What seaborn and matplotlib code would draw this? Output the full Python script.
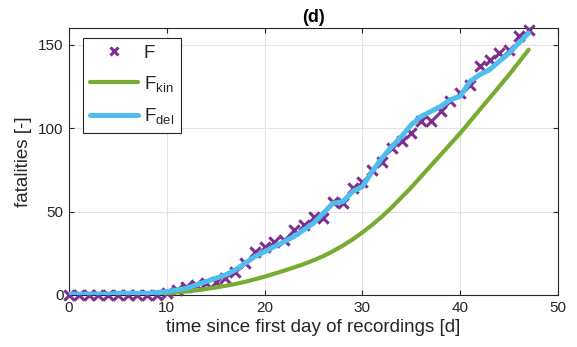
import numpy as np
import pandas as pd
import seaborn as sns
import matplotlib
matplotlib.use("Agg")
import matplotlib.pyplot as plt
from matplotlib.lines import Line2D

# ---- data ----
days = list(range(48))
F = [0, 0, 0, 0, 0, 0, 0, 0, 0, 0,
     1, 3, 5, 6, 7, 8, 10, 14, 19, 26,
     29, 32, 33, 39, 42, 47, 46, 56, 55, 64,
     68, 75, 80, 88, 92, 97, 104, 104, 110, 116,
     121, 126, 137, 141, 145, 147, 155, 159]
F_kin = [0, 0, 0, 0, 0, 0, 0, 0, 0.2, 0.5,
         1, 1.5, 2.1, 2.8, 3.6, 4.5, 5.5, 6.6, 7.9, 9.4,
         11, 12.8, 14.6, 16.5, 18.5, 20.8, 23.3, 26.3, 29.6, 33.3,
         37.5, 42, 47, 52.5, 58.5, 64.5, 71, 77.5, 84, 90.5,
         97, 104, 111, 118, 125, 132, 139.5, 147]
F_del = [0.5, 0.5, 0.5, 0.5, 0.5, 1, 1, 1, 1, 1.5,
         2, 3, 4, 6, 8, 10, 12, 15, 19, 23,
         26, 29, 32, 35, 39, 43, 49, 55, 56, 62,
         65, 74, 82, 89, 95, 102, 107, 110, 113, 117,
         119, 128, 132, 135, 140, 145, 151, 157]
x_ticks = [0, 10, 20, 30, 40, 50]
y_ticks = [0, 50, 100, 150]

df = pd.DataFrame({"day": days, "F": F, "F_kin": F_kin, "F_del": F_del})

c_F = "#7E2F8E"
c_kin = "#77AC30"
c_del = "#4DBEEE"
dark = "#262626"

sns.set_theme(style="white")
plt.rcParams["font.family"] = ["Liberation Sans", "DejaVu Sans"]
plt.rcParams["mathtext.fontset"] = "custom"
plt.rcParams["mathtext.rm"] = "Liberation Sans"
plt.rcParams["mathtext.it"] = "Liberation Sans"

fig = plt.figure(figsize=(5.77, 3.47), dpi=100)
ax = fig.add_axes([69 / 577, 1 - 295 / 347, (558 - 69) / 577, (295 - 28) / 347])

sns.scatterplot(data=df, x="day", y="F", marker="x", s=55, linewidth=2.2,
                color=c_F, ax=ax, clip_on=False, zorder=3, legend=False)
sns.lineplot(data=df, x="day", y="F_kin", color=c_kin, linewidth=3.0, ax=ax,
             zorder=4, legend=False)
sns.lineplot(data=df, x="day", y="F_del", color=c_del, linewidth=3.6, ax=ax,
             zorder=5, legend=False)

ax.set_xlim(0, 50)
ax.set_ylim(0, 160)
ax.set_xticks(x_ticks)
ax.set_yticks(y_ticks)
ax.grid(True, color="#e3e3e3", linewidth=0.8)
ax.set_axisbelow(True)
for s in ax.spines.values():
    s.set_visible(True)
    s.set_color(dark)
    s.set_linewidth(0.8)
ax.tick_params(direction="in", length=3.6, width=0.8, colors=dark,
               labelsize=11, top=True, right=True, bottom=True, left=True,
               labelcolor=dark, pad=4)

ax.set_xlabel("time since first day of recordings [d]", fontsize=13.5,
              color=dark, labelpad=3)
ax.set_ylabel("fatalities [-]", fontsize=13.5, color=dark, labelpad=4)
ax.set_title("(d)", fontsize=13, fontweight="bold", color="black", pad=4)

handles = [
    Line2D([], [], linestyle="none", marker="x", markersize=6, mew=2.2, color=c_F),
    Line2D([], [], color=c_kin, linewidth=3.0),
    Line2D([], [], color=c_del, linewidth=3.6),
]
labels = ["F", r"F$_{\mathrm{kin}}$", r"F$_{\mathrm{del}}$"]
leg = ax.legend(handles, labels, loc="upper left",
                bbox_to_anchor=(14 / 489, 1 - 10 / 267), borderaxespad=0,
                fontsize=13.5, frameon=True, fancybox=False, framealpha=1,
                edgecolor=dark, handlelength=2.6, handletextpad=0.3,
                labelspacing=0.65, borderpad=0.35)
leg.get_frame().set_linewidth(0.8)
leg.set_zorder(10)

fig.savefig("out.png", dpi=100)
